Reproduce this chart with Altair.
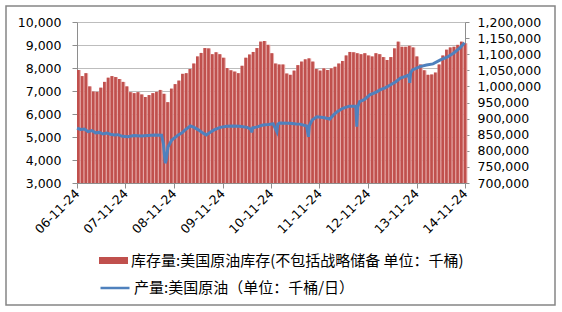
import altair as alt
import pandas as pd

# ---------------- data ----------------
inv_label = "库存量:美国原油库存(不包括战略储备 单位：千桶)"
prod_label = "产量:美国原油（单位：千桶/日）"

inv_start = "2006-11-24"
inventory = [1051000, 1032000, 1041000, 1000000, 984000, 983000, 996000, 1014000, 1027000, 1032000,
             1029000, 1023000, 1014000, 1000000, 982000, 979000, 982000, 975000, 967000, 973000,
             979000, 983000, 989000, 977000, 951000, 993000, 1007000, 1018000, 1039000, 1041000,
             1054000, 1071000, 1093000, 1104000, 1119000, 1118000, 1100000, 1106000, 1100000, 1089000,
             1057000, 1050000, 1046000, 1041000, 1064000, 1089000, 1099000, 1107000, 1119000, 1139000,
             1141000, 1129000, 1103000, 1071000, 1068000, 1068000, 1040000, 1036000, 1049000, 1066000,
             1077000, 1084000, 1087000, 1077000, 1054000, 1049000, 1056000, 1051000, 1056000, 1061000,
             1071000, 1079000, 1096000, 1107000, 1106000, 1103000, 1100000, 1103000, 1096000, 1093000,
             1103000, 1100000, 1091000, 1082000, 1091000, 1118000, 1139000, 1123000, 1123000, 1126000,
             1121000, 1093000, 1068000, 1050000, 1036000, 1037000, 1043000, 1068000, 1096000, 1114000,
             1121000, 1123000, 1129000, 1139000, 1134000]

prod_dates = ["2006-11-24", "2006-12-22", "2007-01-19", "2007-02-16", "2007-03-16", "2007-04-13",
              "2007-05-11", "2007-06-08", "2007-07-06", "2007-08-03", "2007-08-31", "2007-09-28",
              "2007-11-02", "2007-12-14", "2008-01-25", "2008-03-21", "2008-05-09", "2008-07-04",
              "2008-08-22", "2008-09-05", "2008-09-12", "2008-09-19", "2008-09-26", "2008-10-10",
              "2008-11-07", "2008-12-26", "2009-01-23", "2009-02-13", "2009-03-27", "2009-04-24",
              "2009-05-29", "2009-06-26", "2009-07-24", "2009-08-21", "2009-09-18", "2009-11-06",
              "2009-12-25", "2010-02-12", "2010-04-02", "2010-05-28", "2010-06-25", "2010-07-02",
              "2010-07-09", "2010-08-06", "2010-09-24", "2010-11-05", "2010-12-10", "2011-01-07",
              "2011-01-14", "2011-01-28", "2011-04-15", "2011-06-03", "2011-07-01", "2011-08-19",
              "2011-09-02", "2011-09-09", "2011-09-30", "2011-11-04", "2011-12-23", "2012-02-10",
              "2012-03-09", "2012-04-06", "2012-05-18", "2012-07-06", "2012-08-24", "2012-08-31",
              "2012-09-07", "2012-09-21", "2012-10-26", "2012-12-07", "2013-01-25", "2013-02-22",
              "2013-04-05", "2013-05-10", "2013-06-21", "2013-07-26", "2013-09-06", "2013-09-27",
              "2013-10-04", "2013-10-11", "2013-10-25", "2013-12-20", "2014-02-07", "2014-03-28",
              "2014-05-23", "2014-07-11", "2014-08-29", "2014-10-17", "2014-11-21"]
production = [5380, 5330, 5350, 5230, 5280, 5180,
              5200, 5130, 5170, 5120, 5090, 5100,
              5030, 5010, 5060, 5040, 5070, 5090,
              5080, 4700, 4250, 3860, 4000, 4580,
              4870, 5090, 5180, 5300, 5480, 5420,
              5300, 5180, 5090, 5200, 5300, 5420,
              5470, 5480, 5470, 5420, 5340, 5200,
              5400, 5430, 5520, 5540, 5570, 5230,
              5560, 5610, 5600, 5570, 5560, 5480,
              5010, 5500, 5740, 5880, 5850, 5780,
              5960, 6100, 6250, 6340, 6350, 5450,
              6300, 6540, 6620, 6830, 6950, 7050,
              7150, 7260, 7400, 7560, 7650, 7700,
              7350, 7800, 7920, 8060, 8130, 8180,
              8350, 8470, 8640, 8870, 9100]

year_ticks = [2006, 2007, 2008, 2009, 2010, 2011, 2012, 2013, 2014]
left_ticks = list(range(3000, 10001, 1000))
right_ticks = list(range(700000, 1200001, 50000))

# ---------------- tables ----------------
inv_dates = pd.date_range(inv_start, periods=len(inventory), freq="28D")
inv_df = pd.DataFrame({
    "date": inv_dates.strftime("%Y-%m-%d"),
    "end": (inv_dates + pd.Timedelta(days=20)).strftime("%Y-%m-%d"),
    "full": (inv_dates + pd.Timedelta(days=28)).strftime("%Y-%m-%d"),
    "value": inventory,
    "base": 700000,
    "s": inv_label,
})
prod_df = pd.DataFrame({"date": prod_dates, "value": production, "s": prod_label})

FONT = "DejaVu Sans"
CJK = "Noto Sans CJK SC"
AXIS_GREY = "#8E8E8E"

x_domain = [alt.DateTime(year=2006, month=11, date=24, utc=True),
            alt.DateTime(year=2014, month=11, date=24, utc=True)]
x_values = [alt.DateTime(year=y, month=11, date=24, utc=True) for y in year_ticks]
x_scale = alt.Scale(type="utc", domain=x_domain, nice=False)
x_axis = alt.Axis(values=x_values, labelExpr="utcFormat(datum.value, '%y-%m-%d')",
                  labelAngle=315, labelAlign="right", labelBaseline="middle",
                  labelFont=FONT, labelFontSize=12.5, labelColor="black",
                  labelPadding=3, tickSize=5, tickColor=AXIS_GREY,
                  domainColor=AXIS_GREY, grid=False, title=None, labelOverlap=False)

y_right_scale = alt.Scale(domain=[700000, 1200000], nice=False, zero=False)
y_right_axis = alt.Axis(orient="right", values=right_ticks, format=",.0f",
                        labelFont=FONT, labelFontSize=12.5, labelColor="black",
                        tickSize=4, labelPadding=8, tickColor=AXIS_GREY,
                        domainColor=AXIS_GREY, grid=False, title=None)

pink = alt.Chart(inv_df).mark_bar(color="#E7ABA9").encode(
    x=alt.X("date:T", scale=x_scale, axis=x_axis),
    x2="full:T",
    y=alt.Y("value:Q", scale=y_right_scale, axis=y_right_axis),
    y2="base:Q",
)

red = alt.Chart(inv_df).mark_bar().encode(
    x=alt.X("date:T", scale=x_scale, axis=x_axis),
    x2="end:T",
    y=alt.Y("value:Q", scale=y_right_scale, axis=y_right_axis),
    y2="base:Q",
    fill=alt.Fill("s:N", scale=alt.Scale(domain=[inv_label], range=["#C0504D"]),
                  legend=alt.Legend(orient="none", legendX=22, legendY=224, title=None,
                                    symbolType="M-1,-0.24H1V0.24H-1Z", symbolSize=841,
                                    symbolStrokeWidth=0, labelFont=CJK, labelFontSize=15,
                                    labelColor="black", labelLimit=700, labelOffset=3,
                                    padding=0)),
)

bars = alt.layer(pink, red)

line = alt.Chart(prod_df).mark_line(strokeWidth=3).encode(
    x=alt.X("date:T", scale=x_scale, axis=x_axis),
    y=alt.Y("value:Q", scale=alt.Scale(domain=[3000, 10000], nice=False, zero=False),
            axis=alt.Axis(orient="left", values=left_ticks, format=",.0f",
                          labelFont=FONT, labelFontSize=12.5, labelColor="black",
                          tickSize=5, labelPadding=11, tickColor=AXIS_GREY,
                          domainColor=AXIS_GREY, grid=True, gridColor="#BDBDBD",
                          title=None)),
    stroke=alt.Stroke("s:N", scale=alt.Scale(domain=[prod_label], range=["#4F81BD"]),
                      legend=alt.Legend(orient="none", legendX=22, legendY=250, title=None,
                                        symbolType="stroke", symbolSize=841,
                                        symbolStrokeWidth=2.5, labelFont=CJK,
                                        labelFontSize=15, labelColor="black",
                                        labelLimit=700, labelOffset=3, padding=0)),
)

frame = alt.Chart(alt.Data(values=[{}])).mark_rect(
    fill=None, stroke="#858585", strokeWidth=1.5
).encode(
    x=alt.value(-71), x2=alt.value(478), y=alt.value(-16), y2=alt.value(283)
)

chart = alt.layer(bars, line, frame).resolve_scale(
    y="independent", fill="independent", stroke="independent"
).properties(
    width=388, height=161,
    autosize=alt.AutoSizeParams(type="none"),
    padding={"left": 77, "top": 22, "right": 97, "bottom": 129},
    background="white",
).configure_view(stroke=None)

chart.save("out.html", embed_options={"renderer": "svg", "actions": False})
